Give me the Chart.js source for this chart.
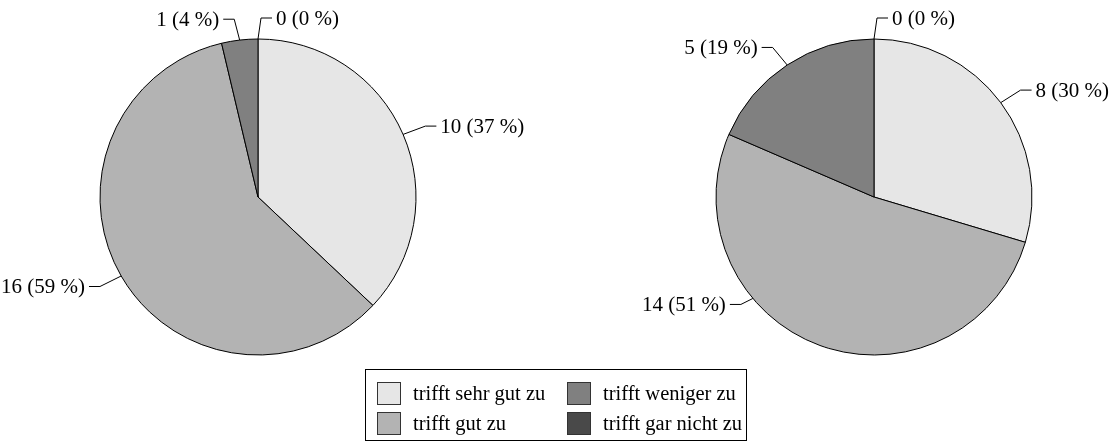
<!DOCTYPE html>
<html>
<head>
<meta charset="utf-8">
<script src="https://cdn.jsdelivr.net/npm/chart.js@4"></script>
<style>
  body { margin: 0; background: #fff; font-family: "Liberation Serif", "Times New Roman", serif; }
  #wrap { position: relative; width: 1114px; height: 448px; overflow: hidden; }
  #left { position: absolute; left: 0; top: 0; }
  #right { position: absolute; left: 557px; top: 0; }
  #legend { position: absolute; left: 365px; top: 369px; width: 382px; height: 72px; border: 1px solid #000; box-sizing: border-box; }
  .item { position: absolute; font-size: 20.5px; line-height: 23px; white-space: nowrap; }
  .sw { display: inline-block; width: 24px; height: 23px; border: 1px solid #333; box-sizing: border-box; vertical-align: top; margin-right: 12px; }
</style>
</head>
<body>
<div id="wrap">
  <canvas id="left" width="557" height="448"></canvas>
  <canvas id="right" width="557" height="448"></canvas>
  <div id="legend"></div>
</div>
<script>
// Kategorien und Werte
const categories = ["trifft sehr gut zu", "trifft gut zu", "trifft weniger zu", "trifft gar nicht zu"];
const colors = ["#e6e6e6", "#b3b3b3", "#808080", "#494949"];
const valuesLeft = [10, 16, 1, 0];
const pctLeft = [37, 59, 4, 0];
const valuesRight = [8, 14, 5, 0];
const pctRight = [30, 51, 19, 0];

// Beschriftung mit Fuehrungslinien
const leaderLabels = {
    id: 'leaderLabels',
    afterDraw(chart, args, opts) {
        const ctx = chart.ctx;
        const meta = chart.getDatasetMeta(0);
        const values = chart.data.datasets[0].data;
        ctx.save();
        ctx.strokeStyle = '#000';
        ctx.lineWidth = 1;
        ctx.fillStyle = '#000';
        ctx.font = '21px "Liberation Serif", serif';
        ctx.textBaseline = 'middle';
        meta.data.forEach((arc, i) => {
            const p = arc.getProps(['x', 'y', 'startAngle', 'endAngle', 'outerRadius'], true);
            const a = (p.startAngle + p.endAngle) / 2;
            const r = p.outerRadius;
            const dx = Math.cos(a), dy = Math.sin(a);
            const side = dx < -1e-6 ? -1 : 1;
            let ax = p.x + r * dx, ay = p.y + r * dy;
            let ex = p.x + (r + 21) * dx + side * 3, ey = p.y + (r + 21) * dy;
            const maxY = p.y + r * 0.68;
            if (ey > maxY) {
                ey = maxY;
                ay = ey - 6;
                ax = p.x + side * Math.sqrt(r * r - (ay - p.y) * (ay - p.y));
                ex = ax + side * 12;
            }
            const hx = ex + side * 11;
            ctx.beginPath();
            ctx.moveTo(ax, ay);
            ctx.lineTo(ex, ey);
            ctx.lineTo(hx, ey);
            ctx.stroke();
            const txt = values[i] + ' (' + opts.pct[i] + ' %)';
            ctx.textAlign = side > 0 ? 'left' : 'right';
            ctx.fillText(txt, hx + side * 4, ey + 1);
        });
        ctx.restore();
    }
};

function makePie(id, values, pct, padLeft) {
    return new Chart(document.getElementById(id), {
        type: 'pie',
        data: {
            labels: categories,
            datasets: [{
                data: values,
                backgroundColor: colors,
                borderColor: '#000',
                borderWidth: 1
            }]
        },
        options: {
            responsive: false,
            animation: false,
            radius: 158,
            layout: { padding: { left: padLeft, top: 39, right: 557 - padLeft - 316, bottom: 93 } },
            plugins: {
                legend: { display: false },
                tooltip: { enabled: false },
                leaderLabels: { pct: pct }
            }
        },
        plugins: [leaderLabels]
    });
}

makePie('left', valuesLeft, pctLeft, 100);
makePie('right', valuesRight, pctRight, 159);

// Legende, zwei Spalten
const legend = document.getElementById('legend');
categories.forEach((c, i) => {
    const d = document.createElement('div');
    d.className = 'item';
    d.style.left = (i < 2 ? 11 : 201) + 'px';
    d.style.top = (i % 2 === 0 ? 12 : 42) + 'px';
    d.innerHTML = '<span class="sw" style="background:' + colors[i] + '"></span>' + c;
    legend.appendChild(d);
});
</script>
</body>
</html>
